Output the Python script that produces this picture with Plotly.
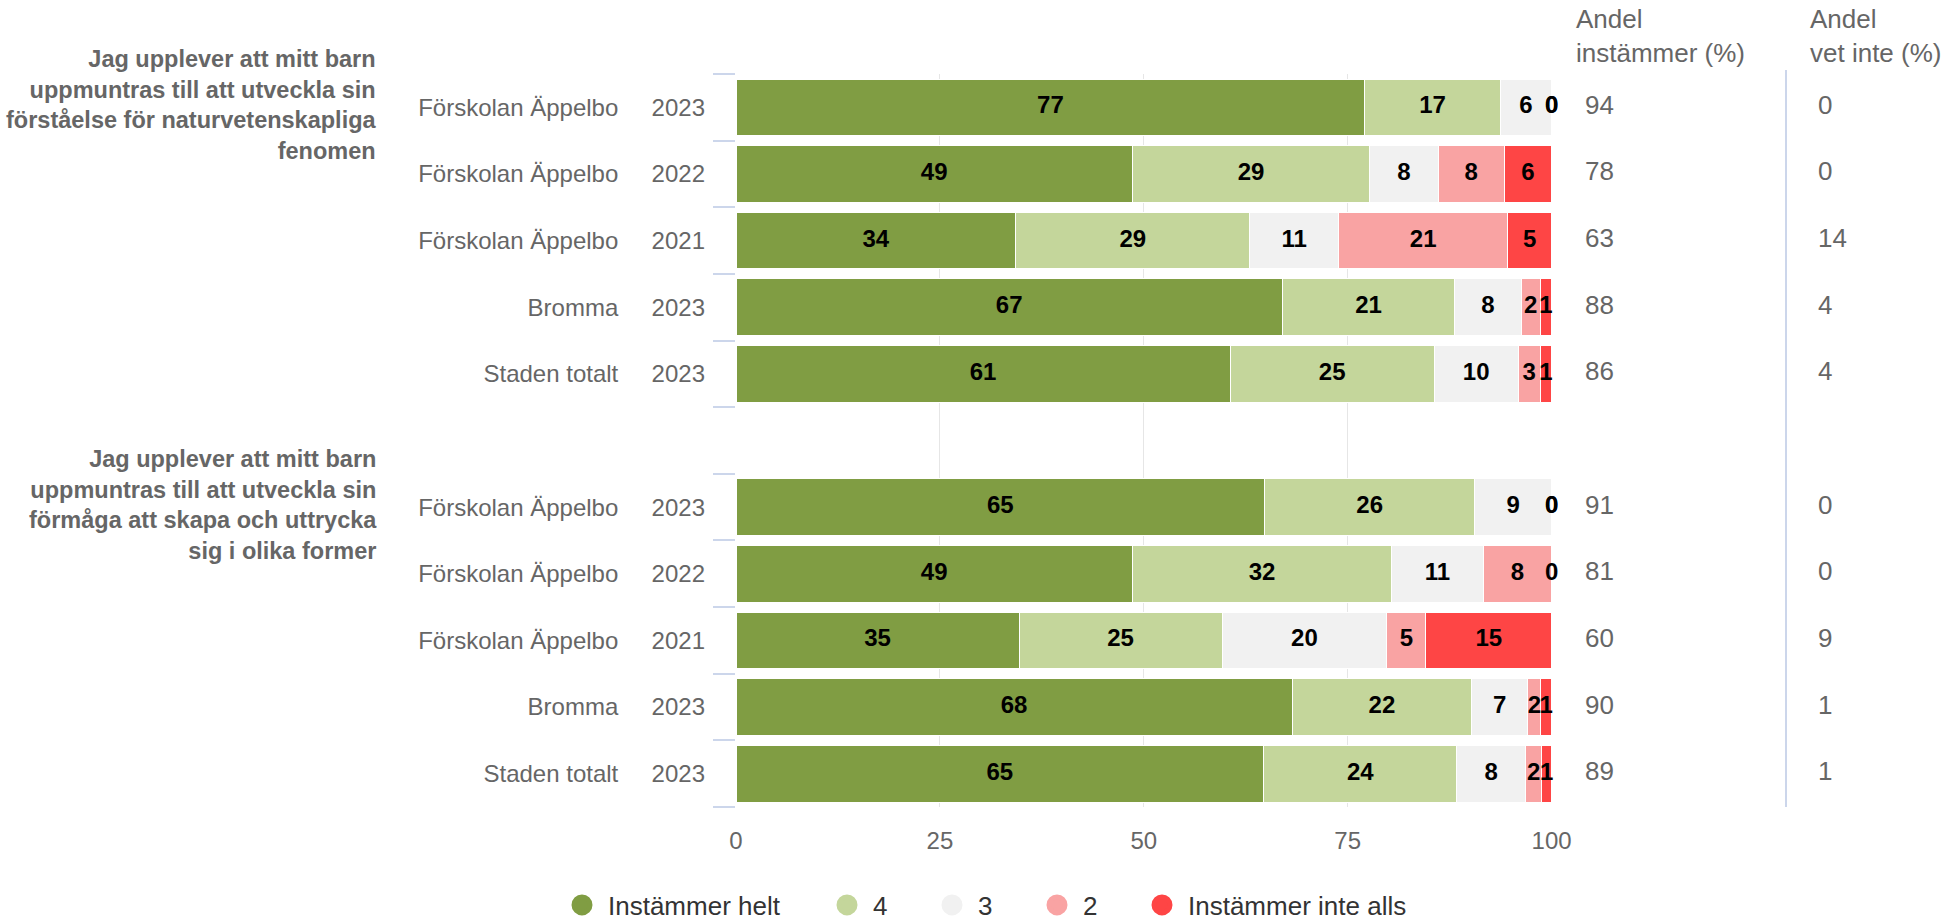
import plotly.graph_objects as go

# ---------------- data ----------------
groups = [
    "Jag upplever att mitt barn<br>uppmuntras till att utveckla sin<br>förståelse för naturvetenskapliga<br>fenomen",
    "Jag upplever att mitt barn<br>uppmuntras till att utveckla sin<br>förmåga att skapa och uttrycka<br>sig i olika former",
]
units = ["Förskolan Äppelbo", "Förskolan Äppelbo", "Förskolan Äppelbo", "Bromma", "Staden totalt"]
years = ["2023", "2022", "2021", "2023", "2023"]

levels = ["Instämmer helt", "4", "3", "2", "Instämmer inte alls"]
colors = ["#809d43", "#c4d69b", "#f1f1f1", "#f9a3a3", "#fe4545"]

# values per level, rows: group1 (5 rows) then group2 (5 rows)
helt = [77.1, 48.6, 34.3, 67.0, 60.6, 64.8, 48.6, 34.7, 68.2, 64.7]
v4 = [16.6, 29.1, 28.7, 21.1, 25.0, 25.8, 31.8, 24.9, 22.0, 23.7]
v3 = [6.3, 8.4, 10.9, 8.2, 10.3, 9.4, 11.2, 20.2, 6.9, 8.4]
v2 = [0.0, 8.1, 20.7, 2.3, 2.7, 0.0, 8.4, 4.8, 1.6, 2.0]
inte = [0.0, 5.8, 5.4, 1.4, 1.4, 0.0, 0.0, 15.4, 1.3, 1.2]
series = [helt, v4, v3, v2, inte]

andel_instammer = [94, 78, 63, 88, 86, 91, 81, 60, 90, 89]
andel_vet_inte = [0, 0, 14, 4, 4, 0, 0, 9, 1, 1]

x_ticks = [0, 25, 50, 75, 100]

# ---------------- layout helpers ----------------
W, H = 1959, 924
ML, MR, MT, MB = 736, 0, 74, 117
PW = W - ML - MR
PH = H - MT - MB
def px_x(p):
    return (p - ML) / PW
def px_y(p):
    return (H - MB - p) / PH

n_rows = len(units)
slots = [g * (n_rows + 1) + r for g in range(len(groups)) for r in range(n_rows)]
ticktext = [u + "\u00a0" * 5 + y for _ in groups for u, y in zip(units, years)]
n_slots = len(groups) * (n_rows + 1) - 1          # 11 slot positions (0..10)
boundaries = [i - 0.5 for i in range(n_slots + 1)]

FONT = "Liberation Sans, Arial, sans-serif"
fig = go.Figure()

# stacked bars
for name, vals, col in zip(levels, series, colors):
    fig.add_trace(go.Bar(
        y=slots, x=vals, orientation="h", name=name,
        marker=dict(color=col, line=dict(color="white", width=1)),
        textposition="none", showlegend=False, hoverinfo="skip",
    ))

# data labels centred on each segment
lab_x, lab_y, lab_t = [], [], []
for i, s in enumerate(slots):
    cum = 0.0
    for vals in series:
        v = vals[i]
        lab_x.append(cum + v / 2)
        lab_y.append(s)
        lab_t.append(f"{v:.0f}")
        cum += v
fig.add_trace(go.Scatter(
    x=lab_x, y=lab_y, mode="text", text=lab_t, textposition="middle center",
    textfont=dict(family=FONT, size=24, color="#000000", weight="bold"),
    showlegend=False, hoverinfo="skip", cliponaxis=False,
))

# legend entries (circles), each in its own legend box for placement
legend_centers = [580, 845, 950, 1055, 1160]
for k, (name, col) in enumerate(zip(levels, colors)):
    fig.add_trace(go.Scatter(
        x=[None], y=[None], mode="markers", name=name,
        marker=dict(color=col, size=16, symbol="circle", line=dict(color=col, width=5)),
        showlegend=True, legend="legend" if k == 0 else f"legend{k+1}",
    ))

# right-hand columns
fig.add_trace(go.Scatter(
    x=[0] * len(slots), y=slots, xaxis="x2", yaxis="y", mode="text",
    text=[str(v) for v in andel_instammer], textposition="middle right",
    textfont=dict(family=FONT, size=26, color="#666666"),
    showlegend=False, hoverinfo="skip", cliponaxis=False,
))
fig.add_trace(go.Scatter(
    x=[0] * len(slots), y=slots, xaxis="x3", yaxis="y", mode="text",
    text=[str(v) for v in andel_vet_inte], textposition="middle right",
    textfont=dict(family=FONT, size=26, color="#666666"),
    showlegend=False, hoverinfo="skip", cliponaxis=False,
))

annotations = []
for g, title in enumerate(groups):
    annotations.append(dict(
        text=title, xref="paper", yref="y", x=px_x(379), y=slots[g * n_rows] - 0.03,
        xanchor="right", yanchor="middle", align="right", showarrow=False,
        font=dict(family=FONT, size=23.5, color="#666666", weight="bold"),
    ))
annotations.append(dict(
    text="Andel<br>instämmer (%)", xref="paper", yref="paper", x=px_x(1574), y=px_y(36),
    xanchor="left", yanchor="middle", align="left", showarrow=False,
    font=dict(family=FONT, size=26, color="#666666"),
))
annotations.append(dict(
    text="Andel<br>vet inte (%)", xref="paper", yref="paper", x=px_x(1808), y=px_y(36),
    xanchor="left", yanchor="middle", align="left", showarrow=False,
    font=dict(family=FONT, size=26, color="#666666"),
))

legend_common = dict(
    orientation="h", xanchor="left", yanchor="middle", y=px_y(905),
    font=dict(family=FONT, size=26, color="#333333"), itemsizing="trace",
    itemwidth=42, bgcolor="rgba(0,0,0,0)", borderwidth=0,
)
legends = {}
for k, cc in enumerate(legend_centers):
    key = "legend" if k == 0 else f"legend{k+1}"
    legends[key] = dict(legend_common, x=px_x(cc - 24))

fig.update_layout(
    width=W, height=H,
    margin=dict(l=ML, r=MR, t=MT, b=MB, pad=0, autoexpand=False),
    paper_bgcolor="white", plot_bgcolor="white",
    barmode="stack", bargap=0.15,
    font=dict(family=FONT, color="#666666"),
    xaxis=dict(
        domain=[0, px_x(1552)], range=[0, 100.05], tickvals=x_ticks,
        showgrid=True, gridcolor="#e6e6e6", gridwidth=1,
        zeroline=False, showline=False, ticks="",
        tickfont=dict(family=FONT, size=24, color="#666666"),
        ticklabelstandoff=17,
    ),
    xaxis2=dict(domain=[px_x(1585), px_x(1585) + 0.1], range=[0, 1], visible=False, anchor="y"),
    xaxis3=dict(domain=[px_x(1818), px_x(1818) + 0.1], range=[0, 1], visible=False, anchor="y"),
    yaxis=dict(
        range=[n_slots - 0.5, -0.5], tickmode="array", tickvals=slots, ticktext=ticktext,
        showgrid=False, zeroline=False, showline=False, ticks="",
        tickfont=dict(family=FONT, size=24, color="#666666"),
        ticklabelstandoff=30,
        minor=dict(tickmode="array", tickvals=boundaries, ticks="outside", ticklen=22,
                   tickwidth=1.5, tickcolor="#ccd6eb", showgrid=False),
    ),
    annotations=annotations,
    shapes=[dict(type="line", xref="paper", yref="paper", x0=px_x(1786), x1=px_x(1786),
                 y0=0, y1=px_y(70), line=dict(color="#ccd6eb", width=2))],
    **legends,
)

fig.write_html("out.html")
